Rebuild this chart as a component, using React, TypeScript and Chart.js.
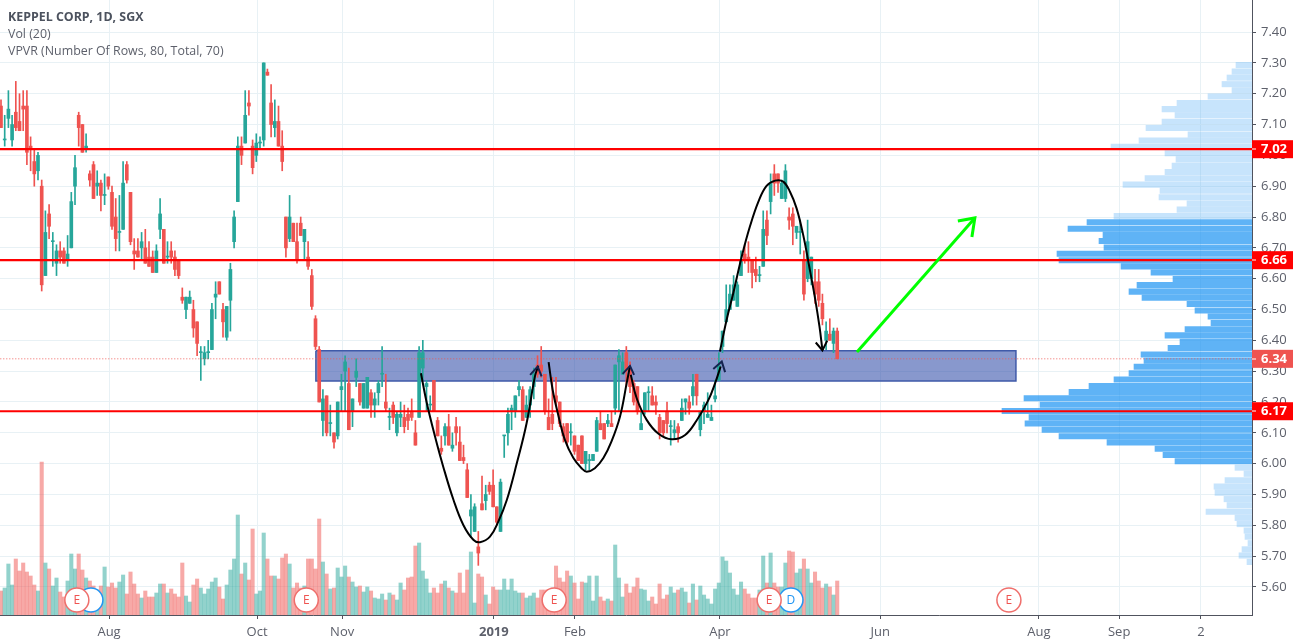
import React, { useEffect, useRef } from "react";
import { Chart, registerables } from "chart.js";

Chart.register(...registerables);

const opens = [
7.16,7.05,7.12,7.05,7.14,7.11,7.16,7.16,7.03,6.98,
6.95,6.90,6.61,6.81,6.72,6.65,6.69,6.69,6.66,6.70,
6.90,7.13,7.10,7.02,6.94,6.97,6.90,6.91,6.87,6.93,
6.88,6.80,6.75,6.76,6.97,6.88,6.69,6.69,6.70,6.70,
6.67,6.67,6.62,6.76,6.76,6.67,6.69,6.67,6.66,6.54,
6.50,6.52,6.50,6.46,6.36,6.34,6.36,6.37,6.54,6.59,
6.50,6.41,6.53,6.72,6.85,7.03,7.04,7.17,7.03,7.00,
7.04,7.05,7.27,7.17,7.09,7.11,7.03,6.80,6.73,6.78,
6.72,6.78,6.72,6.67,6.61,6.47,6.37,6.14,6.22,6.13,
6.10,6.09,6.24,6.30,6.26,6.17,6.28,6.26,6.18,6.18,
6.23,6.19,6.23,6.29,6.20,6.15,6.19,6.10,6.15,6.15,
6.16,6.17,6.10,6.15,6.31,6.25,6.19,6.27,6.14,6.05,
6.09,6.12,6.05,6.12,6.07,6.02,5.98,5.83,5.78,5.73,
5.87,5.88,5.93,5.93,5.86,5.78,6.09,6.10,6.17,6.17,
6.24,6.24,6.15,6.19,6.25,6.32,6.32,6.29,6.15,6.16,
6.22,6.20,6.12,6.13,6.10,6.09,6.06,6.09,6.00,6.01,
6.01,6.04,6.13,6.13,6.13,6.13,6.18,6.33,6.29,6.36,
6.31,6.26,6.25,6.11,6.17,6.23,6.22,6.20,6.15,6.14,
6.17,6.12,6.10,6.12,6.14,6.20,6.20,6.22,6.29,6.11,
6.17,6.15,6.14,6.21,6.27,6.38,6.46,6.50,6.53,6.51,
6.61,6.68,6.67,6.66,6.63,6.61,6.64,6.79,6.85,6.94,
6.94,6.86,6.86,6.80,6.81,6.75,6.75,6.66,6.60,6.60,
6.59,6.59,6.52,6.40,6.42,6.39,6.43];

const highs = [
7.18,7.13,7.21,7.13,7.24,7.20,7.21,7.21,7.06,7.02,
7.01,6.92,6.82,6.84,6.75,6.71,6.72,6.70,6.74,6.88,
7.00,7.14,7.10,7.07,6.95,6.98,6.95,6.92,6.94,6.93,
6.90,6.86,6.87,6.98,6.98,6.88,6.73,6.73,6.75,6.76,
6.72,6.69,6.71,6.86,6.76,6.72,6.72,6.69,6.66,6.57,
6.54,6.56,6.53,6.46,6.38,6.38,6.40,6.52,6.59,6.59,
6.52,6.51,6.65,6.82,7.06,7.06,7.21,7.21,7.05,7.07,
7.06,7.30,7.28,7.23,7.18,7.16,7.08,6.80,6.87,6.78,
6.78,6.80,6.76,6.72,6.63,6.48,6.38,6.24,6.22,6.19,
6.10,6.20,6.29,6.35,6.31,6.21,6.34,6.26,6.26,6.28,
6.24,6.23,6.27,6.38,6.29,6.18,6.20,6.17,6.20,6.19,
6.18,6.21,6.14,6.38,6.40,6.27,6.22,6.27,6.15,6.09,
6.13,6.16,6.10,6.15,6.12,6.06,6.00,5.90,5.87,5.78,
5.96,5.93,5.94,5.98,5.86,5.95,6.09,6.18,6.19,6.22,
6.27,6.25,6.22,6.25,6.31,6.35,6.38,6.29,6.21,6.28,
6.28,6.20,6.13,6.13,6.13,6.09,6.06,6.09,6.04,6.03,
6.03,6.15,6.17,6.13,6.16,6.17,6.32,6.37,6.36,6.38,
6.33,6.27,6.25,6.17,6.23,6.25,6.25,6.22,6.16,6.14,
6.20,6.14,6.14,6.13,6.21,6.21,6.22,6.29,6.29,6.17,
6.20,6.23,6.19,6.27,6.36,6.43,6.58,6.58,6.61,6.59,
6.69,6.71,6.72,6.66,6.67,6.64,6.82,6.82,6.94,6.97,
6.94,6.92,6.97,6.83,6.83,6.77,6.79,6.69,6.79,6.67,
6.63,6.63,6.55,6.46,6.47,6.44,6.44];

const lows = [
7.09,7.03,7.09,7.03,7.08,7.08,7.08,6.97,6.95,6.90,
6.92,6.56,6.61,6.73,6.64,6.61,6.65,6.65,6.64,6.70,
6.84,7.03,7.01,7.01,6.90,6.86,6.87,6.82,6.84,6.89,
6.76,6.69,6.69,6.76,6.91,6.71,6.63,6.67,6.66,6.65,
6.64,6.62,6.62,6.73,6.65,6.65,6.65,6.61,6.60,6.52,
6.47,6.52,6.41,6.35,6.27,6.32,6.34,6.37,6.47,6.55,
6.41,6.40,6.43,6.70,6.85,6.97,7.04,7.13,6.94,6.98,
7.02,7.03,7.26,7.06,7.06,7.03,6.95,6.67,6.72,6.72,
6.65,6.74,6.66,6.63,6.50,6.37,6.20,6.09,6.09,6.09,
6.05,6.08,6.17,6.17,6.11,6.12,6.25,6.19,6.18,6.18,
6.15,6.15,6.19,6.25,6.17,6.11,6.13,6.09,6.12,6.10,
6.11,6.14,6.06,6.15,6.27,6.17,6.17,6.17,6.09,6.03,
6.06,6.06,6.04,6.06,6.01,6.00,5.89,5.76,5.78,5.67,
5.85,5.85,5.90,5.86,5.80,5.78,6.02,6.06,6.11,6.15,
6.22,6.14,6.15,6.15,6.21,6.28,6.28,6.16,6.11,6.11,
6.19,6.12,6.07,6.06,6.06,6.03,6.01,6.00,5.98,5.98,
6.01,6.04,6.11,6.08,6.12,6.12,6.16,6.17,6.29,6.25,
6.23,6.19,6.16,6.11,6.16,6.17,6.19,6.16,6.08,6.09,
6.10,6.06,6.08,6.07,6.14,6.16,6.16,6.19,6.19,6.09,
6.13,6.15,6.14,6.20,6.27,6.36,6.46,6.50,6.53,6.51,
6.61,6.65,6.62,6.57,6.59,6.59,6.64,6.71,6.81,6.87,
6.88,6.86,6.85,6.76,6.71,6.73,6.68,6.53,6.59,6.58,
6.52,6.51,6.45,6.37,6.40,6.36,6.34];

const closes = [
7.09,7.05,7.15,7.10,7.09,7.08,7.15,7.01,7.02,6.94,
7.00,6.58,6.75,6.77,6.72,6.69,6.67,6.65,6.68,6.85,
6.96,7.09,7.01,7.03,6.92,6.86,6.91,6.87,6.87,6.90,
6.77,6.73,6.75,6.91,6.92,6.72,6.68,6.67,6.72,6.65,
6.64,6.62,6.69,6.81,6.65,6.67,6.67,6.63,6.61,6.53,
6.54,6.54,6.44,6.39,6.36,6.36,6.36,6.50,6.55,6.55,
6.46,6.51,6.63,6.80,7.03,7.00,7.13,7.16,6.96,7.04,
7.04,7.30,7.26,7.10,7.11,7.03,6.98,6.70,6.80,6.72,
6.66,6.74,6.76,6.64,6.51,6.38,6.20,6.21,6.10,6.13,
6.07,6.20,6.25,6.33,6.11,6.21,6.30,6.20,6.26,6.28,
6.19,6.21,6.26,6.29,6.18,6.15,6.15,6.16,6.16,6.12,
6.14,6.15,6.06,6.36,6.36,6.26,6.19,6.17,6.09,6.04,
6.12,6.06,6.06,6.10,6.01,6.01,5.89,5.85,5.86,5.71,
5.85,5.90,5.91,5.86,5.81,5.94,6.09,6.16,6.18,6.22,
6.25,6.14,6.19,6.24,6.29,6.29,6.30,6.17,6.11,6.13,
6.20,6.13,6.09,6.07,6.10,6.04,6.01,6.00,6.04,6.01,
6.03,6.14,6.11,6.08,6.14,6.12,6.32,6.35,6.33,6.30,
6.25,6.20,6.17,6.13,6.23,6.23,6.19,6.19,6.10,6.10,
6.13,6.12,6.11,6.10,6.18,6.21,6.18,6.25,6.22,6.17,
6.19,6.16,6.15,6.22,6.32,6.43,6.50,6.55,6.58,6.58,
6.66,6.66,6.66,6.62,6.61,6.61,6.76,6.74,6.91,6.91,
6.91,6.91,6.95,6.79,6.77,6.77,6.75,6.55,6.72,6.67,
6.55,6.53,6.47,6.43,6.40,6.43,6.34];

const volumes = [
24,27,51,30,56,44,52,43,39,30,24,153,52,46,29,37,23,18,34,61,
46,61,45,37,34,29,25,29,48,28,32,27,33,40,21,43,31,21,17,24,
18,18,22,31,31,22,26,21,18,52,19,13,30,36,27,21,26,33,37,28,
16,30,45,56,100,41,52,35,86,21,24,82,56,39,39,36,57,61,51,27,
32,27,29,56,56,46,96,53,41,26,27,47,38,49,38,33,28,29,23,28,
24,17,16,21,15,22,20,15,32,25,37,38,69,72,44,36,
22,27,22,31,34,27,24,22,42,22,45,63,12,41,38,20,11,28,25,25,
36,25,36,24,22,22,17,19,22,17,25,25,25,27,49,37,33,44,39,32,
16,33,32,39,14,39,18,14,16,14,70,37,18,31,22,28,37,26,25,14,
18,11,31,16,20,28,22,25,27,23,12,31,15,29,20,16,11,26,32,58,
54,42,26,20,33,26,21,17,17,25,59,32,62,32,28,28,52,64,63,42,
46,56,46,32,43,34,27,31,28,20,34];

const vpPrices = [
7.293,7.272,7.252,7.231,7.211,7.191,7.170,7.150,7.130,7.109,
7.089,7.068,7.048,7.028,7.007,6.987,6.966,6.946,6.926,6.905,
6.885,6.864,6.844,6.824,6.803,6.783,6.762,6.742,6.722,6.701,
6.681,6.660,6.640,6.620,6.599,6.579,6.558,6.538,6.518,6.497,
6.477,6.456,6.436,6.416,6.395,6.375,6.354,6.334,6.314,6.293,
6.273,6.252,6.232,6.212,6.191,6.171,6.150,6.130,6.110,6.089,
6.069,6.048,6.028,6.008,5.987,5.967,5.946,5.926,5.906,5.885,
5.865,5.844,5.824,5.804,5.783,5.763,5.742,5.722,5.702,5.681];

const vpVolumes = [
16,20,25,30,20,44,75,90,77,90,106,64,113,141,87,76,80,87,107,129,
92,93,65,75,138,165,184,149,153,148,195,193,131,101,79,115,123,110,65,57,
44,41,67,87,72,84,111,108,118,123,138,163,183,228,212,250,223,227,210,193,
145,97,89,77,17,8,27,38,37,28,25,46,17,15,8,7,4,10,13,5];

const valueAreaLow = 6.0;
const valueAreaHigh = 6.79;

const xTickBars = [29.2, 69.2, 92.2, 133.2, 155.1, 194.3, 237.6, 280.5, 302.2, 324.3];
const xTickLabels = ["Aug", "Oct", "Nov", "2019", "Feb", "Apr", "Jun", "Aug", "Sep", "2"];

const yTickValues = [5.6,5.7,5.8,5.9,6.0,6.1,6.2,6.3,6.4,6.5,6.6,6.7,6.8,6.9,7.0,7.1,7.2,7.3,7.4];

const levelPrices = [7.02, 6.66, 6.17];
const lastPrice = 6.34;

const zoneBars = [85.1, 274.3];
const zonePrices = [6.366, 6.268];

const eventBars = [24.3, 20.5, 82.5, 149.5, 213.5, 207.6, 272.4];
const eventKinds = ["D", "E", "E", "E", "D", "E", "E"];
const eventLevel = 15;

const curveOneBars = [113.5,115.0,117.3,119.5,122.3,124.95,127.65,129.45,132.15,134.4,136.7,139.4,142.05,144.3,145.2];
const curveOnePrices = [6.293,6.201,6.088,5.991,5.882,5.801,5.753,5.745,5.763,5.812,5.882,6.001,6.131,6.283,6.317];
const curveTwoBars = [148.0,149.1,150.6,152.4,154.7,156.9,158.3,160.5,162.8,165.0,167.3,169.1,170.0];
const curveTwoPrices = [6.329,6.239,6.158,6.077,6.018,5.985,5.974,5.985,6.018,6.072,6.153,6.261,6.317];
const curveThreeBars = [170.2,171.8,174.5,177.7,181.3,184.9,188.0,191.2,193.0,194.5];
const curveThreePrices = [6.288,6.212,6.142,6.097,6.079,6.093,6.140,6.207,6.261,6.315];
const curveFourBars = [194.3,196.1,197.9,200.2,202.4,204.7,206.9,209.2,211.4,213.2,215.0,216.8,218.6,220.0,221.2,222.0];
const curveFourPrices = [6.364,6.466,6.553,6.672,6.769,6.850,6.901,6.918,6.915,6.883,6.829,6.742,6.629,6.537,6.445,6.369];

const arrowHeadOneBars = [143.0,145.05,146.1];
const arrowHeadOnePrices = [6.288,6.315,6.283];
const arrowHeadTwoBars = [168.0,170.0,171.1];
const arrowHeadTwoPrices = [6.291,6.317,6.288];
const arrowHeadThreeBars = [192.5,194.8,195.7];
const arrowHeadThreePrices = [6.307,6.331,6.297];
const arrowHeadFourBars = [220.2,222.0,223.3];
const arrowHeadFourPrices = [6.393,6.367,6.399];

const greenShaftBars = [231.35,263.2];
const greenShaftPrices = [6.362,6.797];
const greenHeadBars = [258.6,263.2,262.4];
const greenHeadPrices = [6.787,6.797,6.735];

const FONT = '"Open Sans", sans-serif';
const GREEN = "#26a69a";
const RED = "#ef5350";
const GRID = "#e8f1f5";
const TEXT = "#5d606b";

const zip = (xs: number[], ys: number[]) => xs.map((x, i) => ({ x, y: ys[i] }));

const lineSet = (data: any[], color: string, width: number, order: number, extra: any = {}) => ({
  type: "line",
  data,
  borderColor: color,
  borderWidth: width,
  pointRadius: 0,
  fill: false,
  tension: 0,
  order,
  xAxisID: "x",
  yAxisID: "y",
  ...extra,
});

const noPadding = (s: any) => {
  s.paddingLeft = 0;
  s.paddingRight = 0;
  s.paddingTop = 0;
  s.paddingBottom = 0;
};

const overlayText = {
  id: "overlayText",
  afterDraw(chart: any) {
    const { ctx, scales } = chart;
    const y = scales.y;
    ctx.save();
    ctx.textBaseline = "middle";
    ctx.textAlign = "left";
    ctx.fillStyle = "#4c525e";
    ctx.font = `bold 12.4px ${FONT}`;
    ctx.fillText("KEPPEL CORP, 1D, SGX", 8, 17);
    ctx.fillStyle = TEXT;
    ctx.font = `12.4px ${FONT}`;
    ctx.fillText("Vol (20)", 8, 34);
    ctx.fillText("VPVR (Number Of Rows, 80, Total, 70)", 8, 51);

    const tags = [
      ...levelPrices.map((p) => ({ p, c: "#ff0000" })),
      { p: lastPrice, c: RED },
    ];
    tags.forEach(({ p, c }) => {
      const py = y.getPixelForValue(p);
      ctx.fillStyle = c;
      ctx.fillRect(1252, py - 9, 41, 18);
      ctx.fillStyle = "#ffffff";
      ctx.fillRect(1252, Math.round(py) - 0.5, 4, 1);
      ctx.font = `bold 13px ${FONT}`;
      ctx.fillText(p.toFixed(2), 1261, py + 0.5);
    });

    const meta = chart.getDatasetMeta(chart.data.datasets.findIndex((d: any) => d.label === "events"));
    ctx.font = `12px ${FONT}`;
    ctx.textAlign = "center";
    meta.data.forEach((pt: any, i: number) => {
      if (eventKinds[i] === "D" && i === 0) return;
      ctx.fillStyle = eventKinds[i] === "E" ? RED : "#2196f3";
      ctx.fillText(eventKinds[i], pt.x, pt.y + 0.5);
    });
    ctx.restore();
  },
};

export default function App() {
  const ref = useRef<HTMLCanvasElement | null>(null);

  useEffect(() => {
    document.body.style.margin = "0";
    const isUp = (i: number) => closes[i] >= opens[i];
    const barColors = opens.map((_, i) => (isUp(i) ? GREEN : RED));
    const volColors = opens.map((_, i) =>
      isUp(i) ? "rgba(38,166,154,0.5)" : "rgba(239,83,80,0.5)"
    );
    const bars = opens.map((_, i) => i);

    const chart = new Chart(ref.current as HTMLCanvasElement, {
      type: "bar",
      plugins: [overlayText],
      data: {
        datasets: [
          {
            label: "volume",
            data: zip(bars, volumes),
            backgroundColor: volColors,
            barThickness: 3.4,
            grouped: false,
            order: 20,
            xAxisID: "x",
            yAxisID: "yVol",
          },
          {
            label: "vpvr",
            indexAxis: "y",
            data: vpPrices.map((p, i) => ({ y: p, x: vpVolumes[i] })),
            backgroundColor: vpPrices.map((p) =>
              p >= valueAreaLow && p <= valueAreaHigh
                ? "rgba(33,150,243,0.72)"
                : "rgba(100,181,246,0.36)"
            ),
            barThickness: 5.4,
            grouped: false,
            order: 19,
            xAxisID: "xVp",
            yAxisID: "y",
          },
          lineSet(
            zip(zoneBars, [zonePrices[0], zonePrices[0]]),
            "rgba(0,0,0,0)",
            0,
            18,
            { fill: { value: zonePrices[1] }, backgroundColor: "rgba(39,67,164,0.55)" }
          ),
          lineSet(
            [
              { x: zoneBars[0], y: zonePrices[0] },
              { x: zoneBars[1], y: zonePrices[0] },
              { x: zoneBars[1], y: zonePrices[1] },
              { x: zoneBars[0], y: zonePrices[1] },
              { x: zoneBars[0], y: zonePrices[0] },
            ],
            "#3f5aa9",
            1.5,
            17
          ),
          {
            label: "wicks",
            data: bars.map((i) => ({ x: i, y: [lows[i], highs[i]] })),
            backgroundColor: barColors,
            barThickness: 1,
            grouped: false,
            order: 16,
            xAxisID: "x",
            yAxisID: "y",
          },
          {
            label: "bodies",
            data: bars.map((i) => ({ x: i, y: [opens[i], closes[i]] })),
            backgroundColor: barColors,
            barThickness: 3,
            minBarLength: 1,
            grouped: false,
            order: 15,
            xAxisID: "x",
            yAxisID: "y",
          },
          ...levelPrices.map((p) =>
            lineSet(zip([-1, 339], [p, p]), "#ff0000", 2.2, 10)
          ),
          lineSet(zip([-1, 339], [lastPrice, lastPrice]), "rgba(239,83,80,0.9)", 1, 9, {
            borderDash: [1, 2],
          }),
          lineSet(zip(curveOneBars, curveOnePrices), "#000000", 2, 8, { tension: 0.4 }),
          lineSet(zip(curveTwoBars, curveTwoPrices), "#000000", 2, 8, { tension: 0.4 }),
          lineSet(zip(curveThreeBars, curveThreePrices), "#000000", 2, 8, { tension: 0.4 }),
          lineSet(zip(curveFourBars, curveFourPrices), "#000000", 2, 8, { tension: 0.4 }),
          lineSet(zip(arrowHeadOneBars, arrowHeadOnePrices), "#14234f", 2, 7),
          lineSet(zip(arrowHeadTwoBars, arrowHeadTwoPrices), "#14234f", 2, 7),
          lineSet(zip(arrowHeadThreeBars, arrowHeadThreePrices), "#14234f", 2, 7),
          lineSet(zip(arrowHeadFourBars, arrowHeadFourPrices), "#000000", 2, 7),
          lineSet(zip(greenShaftBars, greenShaftPrices), "#00ff00", 3, 6),
          lineSet(zip(greenHeadBars, greenHeadPrices), "#00ff00", 3, 6),
          {
            type: "line",
            label: "events",
            data: eventBars.map((x) => ({ x, y: eventLevel })),
            showLine: false,
            pointRadius: 12,
            pointBorderWidth: 1.5,
            pointBackgroundColor: "#ffffff",
            pointBorderColor: eventKinds.map((k) => (k === "E" ? "#ef6f6c" : "#2196f3")),
            order: 1,
            xAxisID: "x",
            yAxisID: "yVol",
          },
        ],
      } as any,
      options: {
        animation: false,
        responsive: false,
        devicePixelRatio: 1,
        layout: { padding: 0, autoPadding: false },
        plugins: { legend: { display: false }, tooltip: { enabled: false }, title: { display: false } },
        events: [],
        scales: {
          x: {
            type: "linear",
            position: "bottom",
            bounds: "data",
            min: -0.27,
            max: 338.1,
            offset: false,
            afterBuildTicks: (s: any) => {
              s.ticks = xTickBars.map((value) => ({ value }));
            },
            afterFit: (s: any) => {
              s.height = 28;
              noPadding(s);
            },
            grid: { color: GRID, tickColor: "#50535e", tickLength: 4, offset: false },
            border: { color: "#50535e", width: 1 },
            ticks: {
              autoSkip: false,
              maxRotation: 0,
              color: TEXT,
              padding: 5,
              font: (c: any) => ({
                family: FONT,
                size: 13,
                weight: c.index === 3 ? "bold" : "normal",
              }),
              callback: (_v: any, i: number) => xTickLabels[i],
            },
          },
          xVp: {
            type: "linear",
            axis: "x",
            position: "top",
            bounds: "data",
            display: false,
            reverse: true,
            min: 0,
            max: 1252,
            offset: false,
          },
          y: {
            type: "linear",
            position: "right",
            bounds: "data",
            min: 5.509,
            max: 7.504,
            offset: false,
            afterBuildTicks: (s: any) => {
              s.ticks = yTickValues.map((value) => ({ value }));
            },
            afterFit: (s: any) => {
              s.width = 41;
              noPadding(s);
            },
            grid: { color: GRID, tickColor: "#50535e", tickLength: 4, offset: false },
            border: { color: "#50535e", width: 1 },
            ticks: {
              autoSkip: false,
              color: TEXT,
              padding: 5,
              font: { family: FONT, size: 13 },
              callback: (v: any) => Number(v).toFixed(2),
            },
          },
          yVol: {
            type: "linear",
            axis: "y",
            position: "left",
            bounds: "data",
            display: false,
            min: 0,
            max: 615,
            offset: false,
          },
        },
      } as any,
    });
    return () => chart.destroy();
  }, []);

  return (
    <div style={{ width: 1293, height: 643 }}>
      <canvas ref={ref} width={1293} height={643} style={{ display: "block" }} />
    </div>
  );
}
